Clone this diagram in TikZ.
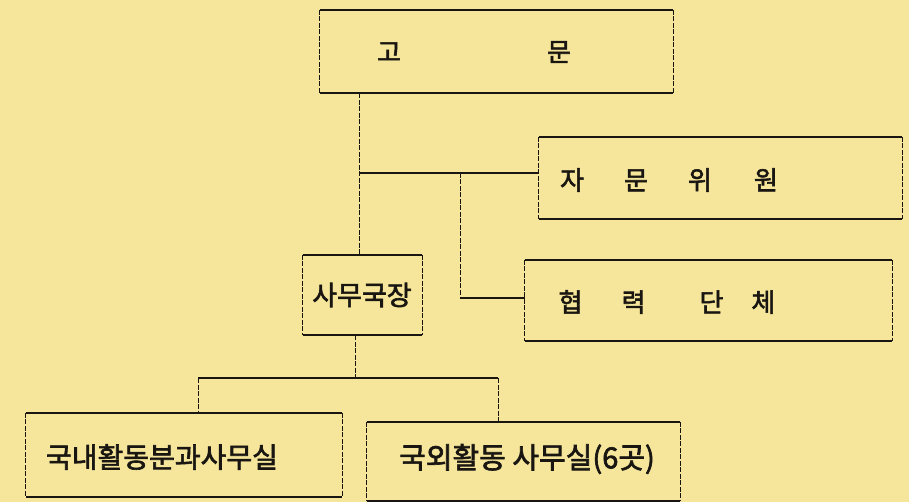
\documentclass[tikz,border=0pt]{standalone}
\usepackage{fontspec}
\newfontfamily\kr[FakeBold=2.2]{Noto Sans CJK KR}
\definecolor{paper}{RGB}{245,230,155}
\definecolor{ink}{RGB}{25,22,18}
\tikzset{
  box/.style={rectangle, inner sep=0pt, draw=none},
  txt/.style={inner sep=0pt, text=ink, font=\kr\fontsize{26}{26}\selectfont},
  bigtxt/.style={txt, font=\kr\fontsize{27}{27}\selectfont},
  hline/.style={draw=ink, line width=1.7pt},
  vline/.style={draw=ink, line width=1pt, dash pattern=on 5pt off 1.5pt},
  conh/.style={draw=ink, line width=1.4pt},
  conv/.style={draw=ink, line width=1pt, dash pattern=on 5pt off 1.5pt},
}
\begin{document}
\begin{tikzpicture}[x=1pt,y=-1pt]
\fill[paper] (0,0) rectangle (909,502);
\useasboundingbox (0,0) rectangle (909,502);
% boxes
\node[box, minimum width=353pt, minimum height=83pt] (gomun) at (496.5,51.5) {};
\node[box, minimum width=363pt, minimum height=82pt] (jamun) at (720.5,178) {};
\node[box, minimum width=367pt, minimum height=81pt] (hyeop) at (708.5,300.5) {};
\node[box, minimum width=119pt, minimum height=80pt] (sa) at (362.5,295) {};
\node[box, minimum width=316pt, minimum height=84pt] (gn) at (184,455) {};
\node[box, minimum width=313pt, minimum height=79pt] (gw) at (523.5,461.5) {};
\foreach \n in {gomun,jamun,hyeop,sa,gn,gw}{
  \draw[hline] (\n.north west) -- (\n.north east) (\n.south west) -- (\n.south east);
  \draw[vline] (\n.north west) -- (\n.south west) (\n.north east) -- (\n.south east);
}
% texts
\node[txt] (gomun-t) at (474,52) {고\hspace{146pt}문};
\node[txt] (jamun-t) at (669,180) {자\hspace{40pt}문\hspace{40pt}위\hspace{42pt}원};
\node[txt] (hyeop-t) at (667,302) {협\hspace{39pt}력\hspace{54pt}단\hspace{28pt}체};
\node[bigtxt] (sa-t) at (362,295) {사무국장};
\node[bigtxt, font=\kr\fontsize{28}{28}\selectfont] (gn-t) at (162,457) {국내활동분과사무실};
\node[bigtxt, font=\kr\fontsize{29}{29}\selectfont] (gw-t) at (527,459) {국외활동 사무실(6곳)};
% junctions
\coordinate (j1) at (359,173);
\coordinate (j2) at (460,173);
\coordinate (j3) at (460,298);
\coordinate (j4) at (355,378);
\coordinate (j5) at (198,378);
\coordinate (j6) at (498,378);
% connectors
\draw[conv] (gomun.south -| j1) -- (sa.north -| j1);
\draw[conh] (j1) -- (jamun.west |- j1);
\draw[conv] (j2) -- (j3);
\draw[conh] (j3) -- (hyeop.west |- j3);
\draw[conv] (sa.south -| j4) -- (j4);
\draw[conh] (j5) -- (j6);
\draw[conv] (j5) -- (gn.north -| j5);
\draw[conv] (j6) -- (gw.north -| j6);
\end{tikzpicture}
\end{document}
